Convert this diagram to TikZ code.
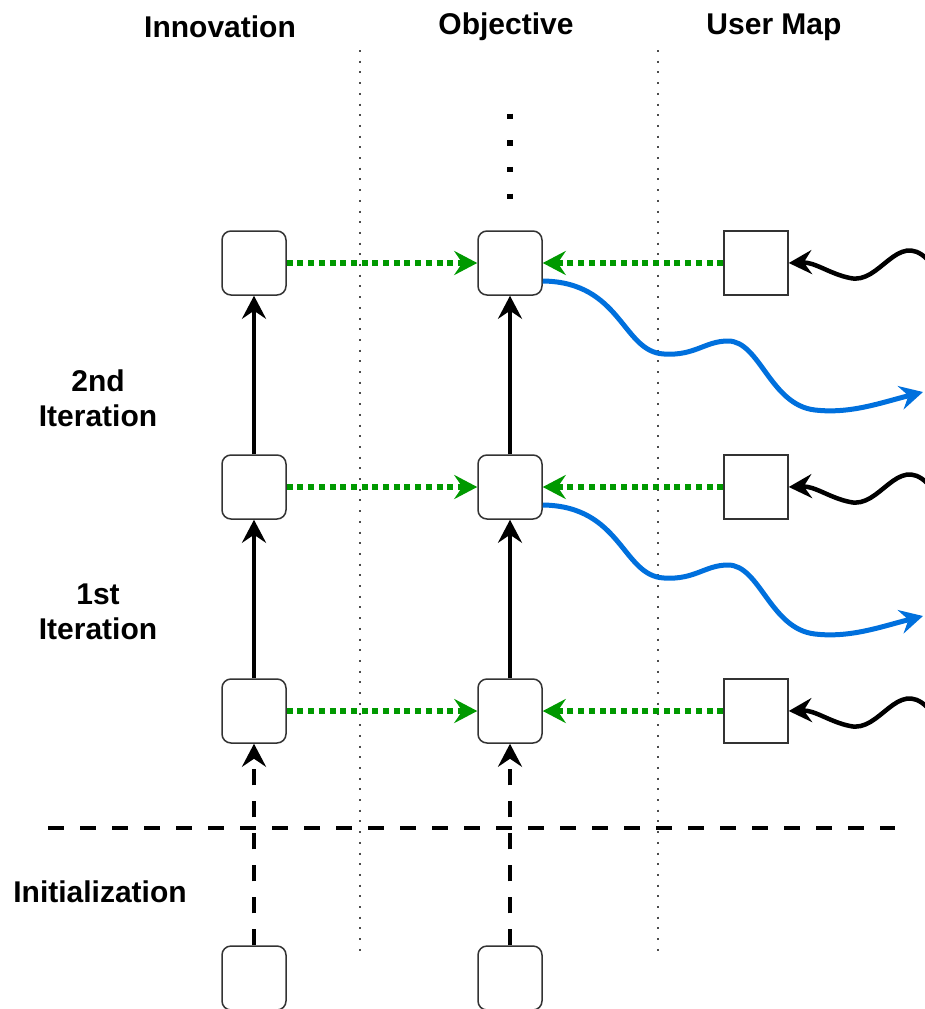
\documentclass[tikz,border=0pt]{standalone}
\usepackage{fontspec}
\setmainfont{Liberation Sans}
\usepackage{xcolor}
\usepackage{tikz}
\usetikzlibrary{arrows.meta}
\definecolor{feedGreen}{RGB}{0,153,0}
\definecolor{signalBlue}{RGB}{0,112,221}

\begin{document}
\begin{tikzpicture}[x=1pt, y=-1pt,
		box/.style={draw=black!80, line width=1.5pt, rounded corners=9pt, minimum size=64pt, inner sep=0pt},
		mapbox/.style={box, rounded corners=0pt},
		head/.style={font=\fontsize{30}{35}\selectfont\bfseries, align=center},
		tip/.style={-{Stealth[length=23pt,width=24pt,inset=8pt]}},
		update/.style={tip, line width=4pt},
		seed/.style={update, line width=4.5pt, dash pattern=on 16pt off 16pt},
		feed/.style={tip, feedGreen, line width=5.5pt, dash pattern=on 6pt off 4.7pt},
		signal/.style={tip, signalBlue, line width=5pt},
		probe/.style={tip, line width=4.5pt},
		lane/.style={black!70, line width=2pt, dash pattern=on 2pt off 8.7pt}]
		\useasboundingbox (0,0) rectangle (925,1009);

		% column titles and phase labels
		\node[head] (titleInnov) at (220,27) {Innovation};
		\node[head] (titleObj) at (506,27) {Objective};
		\node[head] (titleMap) at (774,27) {User Map};
		\node[head] (phase2) at (98,398) {2nd\\Iteration};
		\node[head] (phase1) at (98,612) {1st\\Iteration};
		\node[head] (phase0) at (100,892) {Initialization};

		% separators
		\draw[lane] (360,50) -- (360,952);
		\draw[lane] (658,50) -- (658,952);
		\draw[line width=4.5pt, dash pattern=on 16pt off 16pt] (48,828) -- (895,828);
		\draw[line width=5.5pt, dash pattern=on 5.5pt off 21.2pt] (510,113.5) -- (510,200);

		% boxes
		\node[box] (innov0) at (254,978) {};
		\node[box] (innov1) at (254,711) {};
		\node[box] (innov2) at (254,487) {};
		\node[box] (innov3) at (254,263) {};
		\node[box] (obj0) at (510,978) {};
		\node[box] (obj1) at (510,711) {};
		\node[box] (obj2) at (510,487) {};
		\node[box] (obj3) at (510,263) {};
		\node[mapbox] (umap1) at (756,711) {};
		\node[mapbox] (umap2) at (756,487) {};
		\node[mapbox] (umap3) at (756,263) {};

		% updates along each column
		\draw[seed] (innov0.north) -- (innov1.south);
		\draw[seed] (obj0.north) -- (obj1.south);
		\draw[update] (innov1.north) -- (innov2.south);
		\draw[update] (innov2.north) -- (innov3.south);
		\draw[update] (obj1.north) -- (obj2.south);
		\draw[update] (obj2.north) -- (obj3.south);

		% feeds into the objective
		\draw[feed] (innov1.east) -- (obj1.west);
		\draw[feed] (innov2.east) -- (obj2.west);
		\draw[feed] (innov3.east) -- (obj3.west);
		\draw[feed] (umap1.west) -- (obj1.east);
		\draw[feed] (umap2.west) -- (obj2.east);
		\draw[feed] (umap3.west) -- (obj3.east);

		% incoming probes on the user map
		\coordinate (probe1) at (927,707);
		\coordinate (probe2) at (927,483);
		\coordinate (probe3) at (927,259);
		\draw[probe] (probe3) .. controls (897,230) and (880,285) .. (850,278)
			.. controls (830,274) and (815,262) .. (umap3.east);
		\draw[probe] (probe2) .. controls (897,454) and (880,509) .. (850,502)
			.. controls (830,498) and (815,486) .. (umap2.east);
		\draw[probe] (probe1) .. controls (897,678) and (880,733) .. (850,726)
			.. controls (830,722) and (815,710) .. (umap1.east);

		% outgoing signals from the objective
		\coordinate (sig3) at (923,392);
		\coordinate (sig2) at (923,616);
		\draw[signal] ([yshift=-18pt]obj3.east) .. controls (622,282) and (622,352) .. (664,354)
			.. controls (695,356) and (705,341) .. (728,341)
			.. controls (760,341) and (770,405) .. (815,410)
			.. controls (850,414) and (880,403) .. (sig3);
		\draw[signal] ([yshift=-18pt]obj2.east) .. controls (622,506) and (622,576) .. (664,578)
			.. controls (695,580) and (705,565) .. (728,565)
			.. controls (760,565) and (770,629) .. (815,634)
			.. controls (850,638) and (880,627) .. (sig2);
\end{tikzpicture}
\end{document}
